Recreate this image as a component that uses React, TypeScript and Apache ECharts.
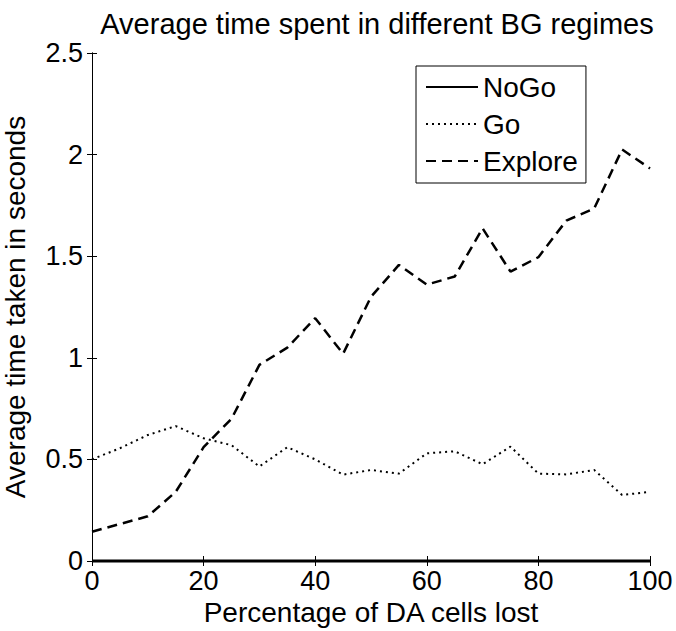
import React, { useEffect, useRef } from "react";
import * as echarts from "echarts";

const xValues = [0, 5, 10, 15, 20, 25, 30, 35, 40, 45, 50, 55, 60, 65, 70, 75, 80, 85, 90, 95, 100];
const noGo = [0, 0, 0, 0, 0, 0, 0, 0, 0, 0, 0, 0, 0, 0, 0, 0, 0, 0, 0, 0, 0];
const go = [0.5, 0.555, 0.62, 0.664, 0.604, 0.57, 0.465, 0.56, 0.5, 0.425, 0.448, 0.43, 0.53, 0.54, 0.476, 0.563, 0.43, 0.426, 0.448, 0.325, 0.34];
const explore = [0.144, 0.182, 0.22, 0.34, 0.56, 0.7, 0.965, 1.05, 1.195, 1.02, 1.3, 1.457, 1.36, 1.4, 1.637, 1.424, 1.495, 1.675, 1.735, 2.025, 1.932];
const xTicks = { min: 0, max: 100, interval: 20 };
const yTicks = { min: 0, max: 2.5, interval: 0.5 };
const titleText = "Average time spent in different BG regimes";
const xName = "Percentage of DA cells lost";
const yName = "Average time taken in seconds";

const FONT = "'Liberation Sans', Arial, Helvetica, sans-serif";

const pairs = (ys: number[]) => xValues.map((x, i) => [x, ys[i]]);

export default function App() {
  const ref = useRef<HTMLDivElement>(null);
  useEffect(() => {
    if (!ref.current) return;
    const chart = echarts.init(ref.current, null, { renderer: "svg" });
    const axisLine = { show: true, lineStyle: { color: "#000", width: 1 } };
    const axisTick = { show: true, inside: true, length: 5, lineStyle: { color: "#000", width: 1 } };
    chart.setOption({
      animation: false,
      backgroundColor: "#fff",
      title: {
        text: titleText,
        left: 372,
        top: 4,
        textAlign: "center",
        textStyle: { fontSize: 29, fontWeight: "normal", color: "#000", fontFamily: FONT },
      },
      grid: { left: 92, right: 26, top: 53, bottom: 70, containLabel: false, outerBoundsMode: "none" },
      legend: {
        orient: "vertical",
        left: 416,
        top: 66,
        padding: [6, 8, 7, 9],
        itemGap: 7,
        itemWidth: 52,
        itemHeight: 14,
        backgroundColor: "#fff",
        borderColor: "#000",
        borderWidth: 1,
        borderRadius: 0,
        itemStyle: { color: "transparent", borderWidth: 0, opacity: 0 },
        textStyle: { fontSize: 28, color: "#000", fontFamily: FONT, lineHeight: 30 },
        data: ["NoGo", "Go", "Explore"],
      },
      xAxis: [
        {
          type: "value",
          ...xTicks,
          position: "bottom",
          axisLine,
          axisTick,
          splitLine: { show: false },
          axisLabel: { fontSize: 27, color: "#000", fontFamily: FONT, margin: 6 },
          name: xName,
          nameLocation: "middle",
          nameGap: 28,
          nameTextStyle: { fontSize: 28, color: "#000", fontFamily: FONT },
        },
        {
          type: "value",
          ...xTicks,
          position: "top",
          axisLine,
          axisTick,
          splitLine: { show: false },
          axisLabel: { show: false },
        },
      ],
      yAxis: [
        {
          type: "value",
          ...yTicks,
          position: "left",
          axisLine,
          axisTick,
          splitLine: { show: false },
          axisLabel: { fontSize: 27, color: "#000", fontFamily: FONT, margin: 9 },
          name: yName,
          nameLocation: "middle",
          nameGap: 63,
          nameTextStyle: { fontSize: 28, color: "#000", fontFamily: FONT },
        },
        {
          type: "value",
          ...yTicks,
          position: "right",
          axisLine,
          axisTick,
          splitLine: { show: false },
          axisLabel: { show: false },
        },
      ],
      series: [
        {
          name: "NoGo",
          type: "line",
          data: pairs(noGo),
          showSymbol: false,
          symbol: "none",
          clip: false,
          lineStyle: { color: "#000", width: 3, type: "solid" },
          itemStyle: { color: "#000" },
          z: 5,
        },
        {
          name: "Go",
          type: "line",
          data: pairs(go),
          showSymbol: false,
          symbol: "none",
          lineStyle: { color: "#000", width: 2, type: [2, 4] },
          itemStyle: { color: "#000" },
        },
        {
          name: "Explore",
          type: "line",
          data: pairs(explore),
          showSymbol: false,
          symbol: "none",
          lineStyle: { color: "#000", width: 2.5, type: [10, 6] },
          itemStyle: { color: "#000" },
        },
      ],
    });
    return () => chart.dispose();
  }, []);
  return (
    <div
      ref={ref}
      style={{ position: "absolute", left: 0, top: 0, width: 676, height: 631, background: "#fff" }}
    />
  );
}
